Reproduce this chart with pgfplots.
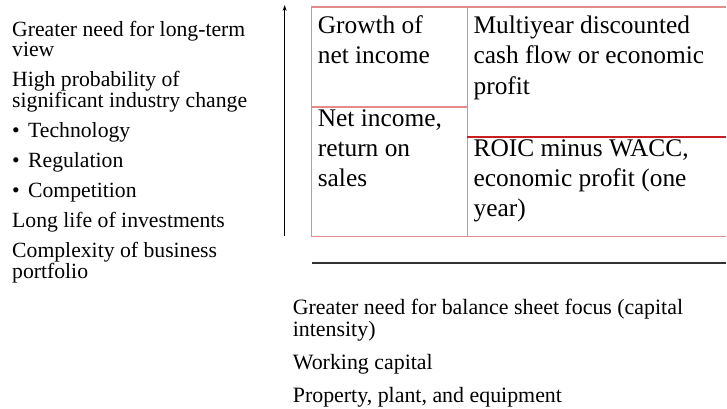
\documentclass[border=0pt]{standalone}
\usepackage{fontspec}
\setmainfont{Liberation Serif}
\usepackage{pgfplots}
\pgfplotsset{compat=1.18}
\usetikzlibrary{arrows.meta}
\definecolor{boxred}{RGB}{228,140,140}
\definecolor{darkred}{RGB}{200,30,30}
\definecolor{rulegray}{RGB}{50,50,50}

\begin{document}
\begin{tikzpicture}
\begin{axis}[
    width=727bp, height=409bp, scale only axis,
    xmin=0, xmax=727, ymin=0, ymax=409,
    y dir=reverse, hide axis, clip=false,
    every axis plot/.append style={no marks, sharp plot},
]
% page frame in pixel units
\path (axis cs:0,0) rectangle (axis cs:727,409);

% upward arrow
\addplot[black, line width=1.1pt, -{Stealth[length=6pt,width=4pt]}] coordinates {(285,236) (285,5)};

% the matrix of measures
\addplot[boxred, line width=1.5pt] coordinates {(727,7) (312,7) (312,237) (727,237)};
\addplot[boxred, line width=1.5pt] coordinates {(468,7) (468,237)};
\addplot[boxred, line width=1.5pt] coordinates {(312,107) (468,107)};
\addplot[darkred, line width=1.5pt] coordinates {(468,137) (727,137)};

% horizontal rule
\addplot[rulegray, line width=1.7pt] coordinates {(312,263) (727,263)};

% left column
\begin{scope}[every node/.style={anchor=base west, inner sep=0pt, font=\fontsize{21.8}{20}\selectfont}]
\node at (axis cs:12,37) {Greater need for long-term};
\node at (axis cs:12,57) {view};
\node at (axis cs:12,87) {High probability of};
\node at (axis cs:12,108) {significant industry change};
\node at (axis cs:12,138) {•};
\node at (axis cs:28,138) {Technology};
\node at (axis cs:12,168) {•};
\node at (axis cs:28,168) {Regulation};
\node at (axis cs:12,198) {•};
\node at (axis cs:28,198) {Competition};
\node at (axis cs:12,228) {Long life of investments};
\node at (axis cs:12,258) {Complexity of business};
\node at (axis cs:12,279) {portfolio};
\end{scope}

% cells
\begin{scope}[every node/.style={anchor=base west, inner sep=0pt, font=\fontsize{25.5}{24}\selectfont}]
\node at (axis cs:318,34) {Growth of};
\node at (axis cs:318,64) {net income};
\node at (axis cs:318,127) {Net income,};
\node at (axis cs:318,157) {return on};
\node at (axis cs:318,187) {sales};
\node at (axis cs:474,34) {Multiyear discounted};
\node at (axis cs:474,64) {cash flow or economic};
\node at (axis cs:474,95) {profit};
\node at (axis cs:474,157) {ROIC minus WACC,};
\node at (axis cs:474,187) {economic profit (one};
\node at (axis cs:474,217) {year)};
\end{scope}

% bottom text
\begin{scope}[every node/.style={anchor=base west, inner sep=0pt, font=\fontsize{22}{21}\selectfont}]
\node at (axis cs:293,315) {Greater need for balance sheet focus (capital};
\node at (axis cs:293,337) {intensity)};
\node at (axis cs:293,370) {Working capital};
\node at (axis cs:293,403) {Property, plant, and equipment};
\end{scope}
\end{axis}
\end{tikzpicture}
\end{document}
